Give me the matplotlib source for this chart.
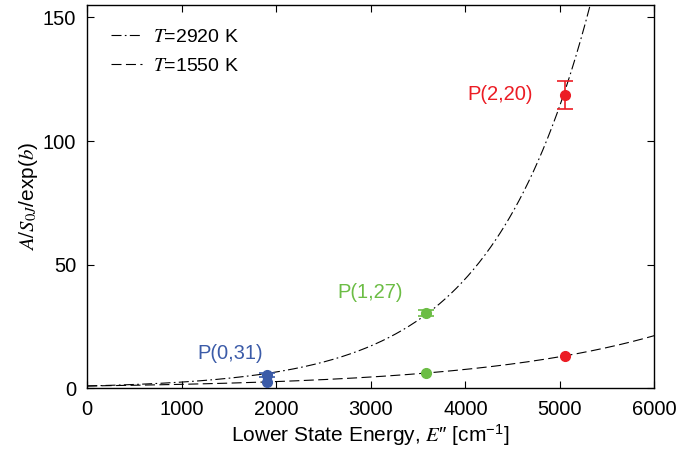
import numpy as np
import matplotlib
matplotlib.use("Agg")
import matplotlib.pyplot as plt

plt.rcParams["font.family"] = ["Liberation Sans", "DejaVu Sans"]
plt.rcParams["mathtext.fontset"] = "stix"

# measured points: lower state energy (cm-1), normalised ratio, error
lines = ["P(0,31)", "P(1,27)", "P(2,20)"]
colors = ["#3b5ba8", "#6cbd45", "#ec1c24"]
energy = [1898, 3581, 5055]
ratio_hot = [5.5, 30.6, 118.7]
err_hot = [0.8, 1.2, 5.6]
ratio_cold = [2.6, 6.2, 13.3]
err_cold = [0.5, 0.4, 0.6]

# exponential fits, y = exp(E''/scale)
fit_labels = [r"$T$=2920 K", r"$T$=1550 K"]
fit_scale = [1055.0, 1960.0]
fit_styles = [(0, (9, 3, 1.5, 3)), (0, (9, 4))]

fig = plt.figure(figsize=(6.76, 4.57), dpi=100)
ax = fig.add_axes([0.129, 0.15, 0.839, 0.839])

E = np.linspace(0, 6000, 600)
for lab, sc, ls in zip(fit_labels, fit_scale, fit_styles):
    ax.plot(E, np.exp(E / sc), color="k", lw=0.8, linestyle=ls, label=lab)

for i in range(len(lines)):
    ax.errorbar(energy[i], ratio_hot[i], yerr=err_hot[i], fmt="o", ms=7,
                color=colors[i], ecolor=colors[i], elinewidth=1.2, capsize=6,
                capthick=1.2, zorder=3)
    ax.errorbar(energy[i], ratio_cold[i], yerr=err_cold[i], fmt="o", ms=7,
                color=colors[i], ecolor=colors[i], elinewidth=1.2, capsize=0,
                zorder=3)

ax.text(4720, 118.7, lines[2], color=colors[2], fontsize=14.5, ha="right", va="center")
ax.text(3340, 38.6, lines[1], color=colors[1], fontsize=14.5, ha="right", va="center")
ax.text(1510, 14.0, lines[0], color=colors[0], fontsize=14.5, ha="center", va="center")

ax.set_xlim(0, 6000)
ax.set_ylim(0, 155)
ax.set_xticks(np.arange(0, 6001, 1000))
ax.set_yticks([0, 50, 100, 150])
ax.tick_params("both", direction="in", length=5, width=0.8, labelsize=14.5,
               top=True, right=True, pad=8)
for s in ax.spines.values():
    s.set_linewidth(1.0)

ax.set_xlabel(r"Lower State Energy, $E$″ [cm$^{\mathregular{-1}}$]",
              fontsize=15, labelpad=3)
ax.set_ylabel(r"$A/S_{0J}$/exp($b$)", fontsize=15, labelpad=2)

ax.legend(loc="upper left", frameon=False, fontsize=14, handlelength=1.6,
          handletextpad=0.6, labelspacing=0.6, borderaxespad=0.7,
          borderpad=0.5)

fig.savefig("out.png", dpi=100)
